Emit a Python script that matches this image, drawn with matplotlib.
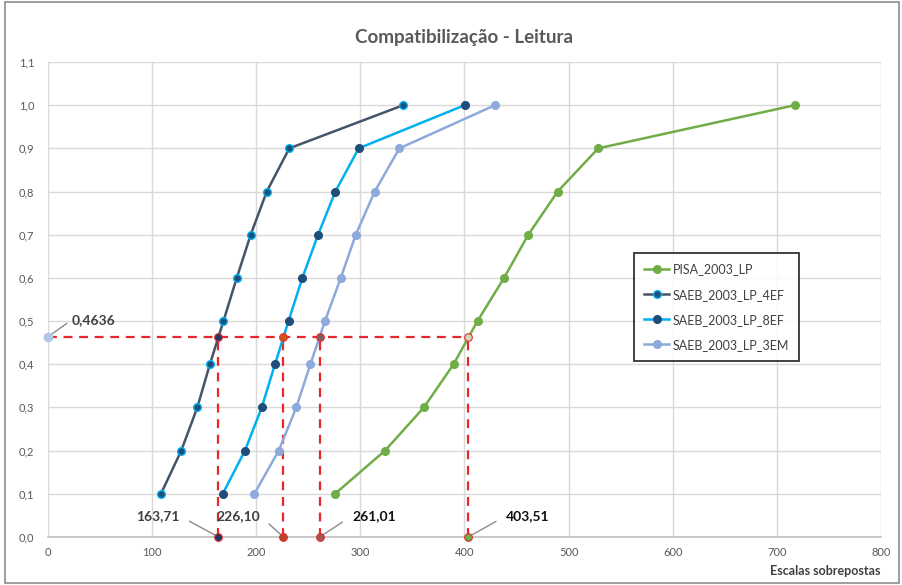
#Importar a biblioteca matplotlib
import matplotlib.pyplot as plt
from matplotlib.patches import Rectangle

plt.rcParams['font.family'] = ['Lato', 'DejaVu Sans']

#Dados
probabilidades = [0.1, 0.2, 0.3, 0.4, 0.5, 0.6, 0.7, 0.8, 0.9, 1.0]
pisa_2003_lp = [275.7, 323.7, 361, 389.5, 412.5, 438, 461.3, 489.5, 528.5, 717.5]
saeb_2003_lp_4ef = [108.5, 128, 143.4, 155.5, 168.5, 181.3, 194.7, 210.1, 231.8, 341.3]
saeb_2003_lp_8ef = [167.8, 189.2, 205.3, 218, 231, 244.3, 259.4, 276, 298.4, 400.3]
saeb_2003_lp_3em = [198.2, 221.6, 238.5, 252, 266, 281.2, 295.6, 313.8, 337.5, 429.4]

#Pontos de compatibilização
corte_y = 0.4636
corte_x = [163.71, 226.10, 261.01, 403.51]
corte_rotulos = ['163,71', '226,10', '261,01', '403,51']

#Rótulos dos eixos
ticks_x = [0, 100, 200, 300, 400, 500, 600, 700, 800]
ticks_y = [0.0, 0.1, 0.2, 0.3, 0.4, 0.5, 0.6, 0.7, 0.8, 0.9, 1.0, 1.1]

fig = plt.figure(figsize=(9.02, 5.85), dpi=100)
ax = fig.add_axes([0.0532, 0.0821, 0.9235, 0.812])

#Moldura do gráfico
fig.patches.append(Rectangle((0.005, 0.004), 0.992, 0.992, transform=fig.transFigure,
                             fill=False, edgecolor='#8C8C8C', linewidth=1.2))

#Linhas vermelhas tracejadas
ax.plot([0, corte_x[-1]], [corte_y, corte_y], color='#E8262B', linestyle=(0, (4, 3)),
        linewidth=1.6, zorder=2)
for x in corte_x:
    ax.plot([x, x], [0, corte_y], color='#E8262B', linestyle=(0, (4, 3)),
            linewidth=1.6, zorder=2)

#Séries
ax.plot(pisa_2003_lp, probabilidades, color='#70AD47', linewidth=1.8, marker='o',
        markersize=5.5, markerfacecolor='#70AD47', markeredgecolor='#70AD47',
        label='PISA_2003_LP', zorder=3)
ax.plot(saeb_2003_lp_4ef, probabilidades, color='#44546A', linewidth=1.8, marker='o',
        markersize=5.5, markerfacecolor='#1F4E79', markeredgecolor='#00B0F0',
        markeredgewidth=1, label='SAEB_2003_LP_4EF', zorder=3)
ax.plot(saeb_2003_lp_8ef, probabilidades, color='#00B0F0', linewidth=1.8, marker='o',
        markersize=5.5, markerfacecolor='#1F4E79', markeredgecolor='#1F4E79',
        label='SAEB_2003_LP_8EF', zorder=3)
ax.plot(saeb_2003_lp_3em, probabilidades, color='#8EA9DB', linewidth=1.8, marker='o',
        markersize=5.5, markerfacecolor='#8EA9DB', markeredgecolor='#8EA9DB',
        label='SAEB_2003_LP_3EM', zorder=3)

#Marcadores dos cortes (no eixo x e na linha 0,4636)
cores_base = ['#1F3864', '#B5472A', '#9A5A55', '#70AD47']
cores_meio = ['#1F3864', '#C55A11', '#7F6060', '#C9DDB8']
for x, cb, cm in zip(corte_x, cores_base, cores_meio):
    ax.plot([x], [0], linestyle='none', marker='o', markersize=5.5,
            markerfacecolor=cb, markeredgecolor='#E8262B', markeredgewidth=0.8,
            zorder=4, clip_on=False)
    ax.plot([x], [corte_y], linestyle='none', marker='o', markersize=5.5,
            markerfacecolor=cm, markeredgecolor='#E8262B', markeredgewidth=0.8, zorder=4)
ax.plot([0], [corte_y], linestyle='none', marker='o', markersize=6,
        markerfacecolor='#B4C7E7', markeredgecolor='#B4C7E7', zorder=4, clip_on=False)

#Rótulos dos cortes
pos_rotulos = [(84.5, 0.049), (161.5, 0.049), (292, 0.049), (440, 0.049)]
cores_rotulos = ['#404040', '#404040', '#111111', '#111111']
lados = ['right', 'right', 'left', 'left']
for x, rot, pos, cor, lado in zip(corte_x, corte_rotulos, pos_rotulos, cores_rotulos, lados):
    relpos = (1, 0.5) if lado == 'right' else (0, 0.5)
    ax.annotate(rot, xy=(x, 0), xytext=pos, fontsize=10, fontweight='bold', color=cor,
                va='center', ha='left',
                arrowprops=dict(arrowstyle='-', color='#8C8C8C', linewidth=1.0,
                                relpos=relpos, shrinkA=6, shrinkB=0))
ax.annotate('0,4636', xy=(0, corte_y), xytext=(23, 0.503), fontsize=10, fontweight='bold',
            color='#404040', va='center', ha='left',
            arrowprops=dict(arrowstyle='-', color='#8C8C8C', linewidth=1.0,
                            relpos=(0, 0.5), shrinkA=2, shrinkB=0))

#Eixos
ax.set_xlim(0, 800)
ax.set_ylim(0, 1.1)
ax.set_xticks(ticks_x)
ax.set_xticklabels([str(t) for t in ticks_x])
ax.set_yticks(ticks_y)
ax.set_yticklabels([f'{t:.1f}'.replace('.', ',') for t in ticks_y])
ax.tick_params(axis='both', length=0, labelsize=8, colors='#595959')
ax.tick_params(axis='x', pad=7)
ax.tick_params(axis='y', pad=10)
ax.grid(True, color='#D9D9D9', linewidth=1)
ax.set_axisbelow(True)
for lado in ['top', 'right', 'left']:
    ax.spines[lado].set_visible(False)
ax.spines['bottom'].set_color('#BFBFBF')
ax.spines['bottom'].set_linewidth(1.2)

#Título e rótulo
ax.set_title('Compatibilização - Leitura', fontsize=13.5, fontweight='bold',
             color='#595959', pad=14)
ax.set_xlabel('Escalas sobrepostas', fontsize=9, fontweight='bold', color='#404040')
ax.xaxis.set_label_coords(1.0, -0.06)
ax.xaxis.label.set_ha('right')

#Legenda
leg = ax.legend(loc='upper left', bbox_to_anchor=(0.696, 0.61), fontsize=9,
                frameon=True, fancybox=False, handlelength=2.0, handletextpad=0.3,
                borderpad=0.8, labelspacing=1.05, labelcolor='#404040')
leg.get_frame().set_edgecolor('#000000')
leg.get_frame().set_linewidth(1.3)

plt.savefig('out.png', dpi=100)
